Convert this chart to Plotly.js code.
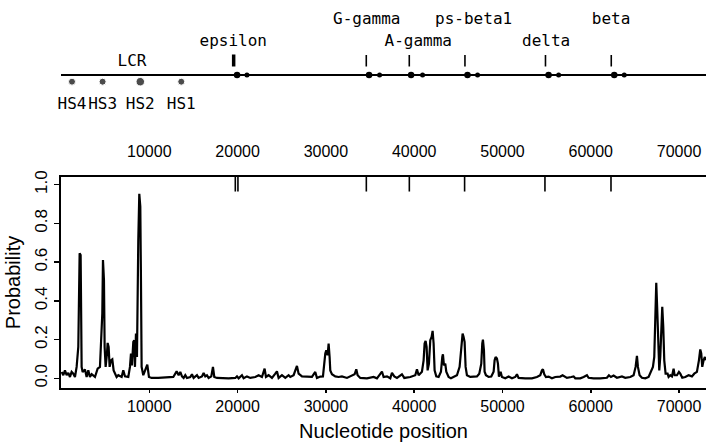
<!DOCTYPE html>
<html><head><meta charset="utf-8">
<script src="https://cdn.plot.ly/plotly-3.0.1.min.js"></script>
<style>html,body{margin:0;padding:0;background:#fff;}#chart{width:706px;height:444px;}</style>
</head><body><div id="chart"></div>
<script>
// ---- data ----
const position = [
  72, 260, 449, 638, 827, 1015, 1204, 1393, 1582, 1770,
  1959, 2035, 2110, 2223, 2299, 2337, 2450, 2714, 2903, 3092,
  3280, 3469, 3847, 4149, 4413, 4526, 4677, 4753, 4866, 4942,
  5055, 5206, 5281, 5394, 5508, 5659, 5810, 5961, 6112, 6300,
  6489, 6867, 7055, 7244, 7622, 7810, 7924, 8037, 8188, 8301,
  8377, 8490, 8603, 8679, 8754, 8867, 8981, 9056, 9132, 9320,
  9509, 9773, 9962, 10264, 11019, 11774, 12152, 12718, 13096,
  13322, 13510, 13699, 13888, 14077, 14265, 14643, 14832, 15020, 15398,
  15587, 15964, 16153, 16342, 16530, 16719, 17021, 17210, 17361, 17663,
  18229, 18984, 19739, 19928, 20117, 20494, 20683, 21061, 21438, 22004,
  22382, 22759, 23061, 23212, 23514, 23892, 24269, 24458, 24647, 25024,
  25402, 25779, 25968, 26345, 26723, 26912, 27289, 27667, 28044, 28422,
  28799, 28988, 29366,
  29668, 29932, 30045, 30196, 30309, 30422, 30498, 30687, 31064, 31442,
  31819, 32385, 32952, 33254, 33442, 33593, 33895, 34650, 35405, 35783,
  36349, 36538, 36915, 37293, 37482, 37746, 38048, 38614, 38878, 39558,
  40124, 40313, 40502, 40879, 41068, 41181, 41294, 41408, 41521, 41672,
  41823, 41974, 42087, 42200, 42313, 42502, 42766, 43031, 43182, 43257,
  43370, 43521, 43635, 43899, 44163, 44465, 44843, 45145, 45296, 45409,
  45484, 45597, 45710, 45824, 45975, 46352,
  46730, 47108, 47372, 47599, 47712, 47787, 47901, 47976, 48127, 48429,
  48731, 48996, 49109, 49222, 49373, 49486, 49599, 49788, 49939, 50317,
  50694, 51072, 51449, 51638, 51826, 52204, 52581, 52959, 53336, 53903,
  54280, 54469, 54582, 54733, 54922, 55224, 55601, 55979, 56545, 56810,
  57036, 57300, 57791, 58055, 58244, 58810,
  59187, 59565, 59753, 60320, 61075, 61830, 62057, 62283, 62585, 62962,
  63529, 63906, 64473, 64850, 65077, 65228, 65341, 65530, 65794, 66172,
  66549, 66813, 67040, 67191, 67304, 67417, 67530, 67643, 67757, 67870,
  67983, 68096, 68209, 68323, 68474, 68700, 68813, 69002, 69191, 69380,
  69493, 69757, 69983, 70134, 70361, 70700, 71078, 71455, 71719, 72021,
  72248, 72399, 72512, 72625, 72776, 72927, 73002
];
const probability = [
  .033, .016, .041, .016, .028, .007, .033, .024, .007, .059,
  .162, .508, .646, .637, .335, .059, .033, .045, .007, .041,
  .007, .021, .007, .050, .059, .162, .335, .611, .508, .162,
  .059, .128, .183, .162, .059, .093, .098, .041, .024, .007,
  .016, .007, .041, .010, .007, .059, .128, .067, .188, .197,
  .059, .231, .110, .508, .715, .953, .888, .508, .059, .016,
  .041, .071, .007, .002, .002, .004, .002, .007, .036,
  .016, .033, .010, .002, .016, .002, .007, .021, .002, .016,
  .002, .010, .028, .010, .016, .002, .010, .059, .007, .002,
  0, 0, .002, .010, 0, .016, 0, .010, .002, .007,
  .016, .007, .050, .007, .016, .002, .024, .036, .002, .016,
  .002, .016, .007, .016, .064, .024, .010, .009, .010, .007,
  .033, .002, .009,
  .010, .128, .145, .119, .180, .110, .041, .021, .010, .007,
  .010, .002, .016, .021, .047, .016, .002, 0, .007, 0,
  .035, .007, .010, 0, .028, .010, .002, .021, .002, .007,
  .016, .047, .016, .034, .093, .180, .193, .162, .041, .076,
  .197, .214, .245, .180, .041, .010, .007, .034, .110, .124,
  .067, .076, .034, .007, 0, .007, .016, .059, .145, .214,
  .231, .214, .188, .059, .016, .007,
  .007, .010, .024, .076, .180, .200, .145, .034, .016, .007,
  .009, .034, .093, .110, .102, .076, .009, .034, .007, 0,
  .009, 0, .007, .021, .002, 0, 0, 0, 0, .007,
  .016, .041, .047, .021, .007, .009, 0, .007, .009, .016,
  .009, .002, .007, .010, 0, 0,
  .007, .016, .003, 0, 0, .003, .016, .007, .014, .003,
  .010, .003, .007, .016, .059, .116, .059, .016, .003, 0,
  .007, .033, .059, .111, .266, .494, .352, .111, .041, .111,
  .300, .370, .266, .093, .024, .024, .007, .016, .010, .050,
  .016, .016, .033, .024, .003, .007, .016, .010, .024, .033,
  .093, .149, .128, .059, .093, .111, .093
];
const xTickVals = [10000, 20000, 30000, 40000, 50000, 60000, 70000];
const xTickText = ['10000', '20000', '30000', '40000', '50000', '60000', '70000'];
const yTickVals = [0, 0.2, 0.4, 0.6, 0.8, 1.0];
const yTickText = ['0.0', '0.2', '0.4', '0.6', '0.8', '1.0'];

const geneNames = ['epsilon', 'G-gamma', 'A-gamma', 'ps-beta1', 'delta', 'beta'];
const genePos = [19555, 34575, 39445, 45750, 54870, 62320];
const geneLabelX = [19510, 34630, 40465, 46730, 54940, 62300];
const exonMainX = [19940, 34890, 39650, 46040, 55220, 62660];
const exonSmallX = [21060, 36080, 40950, 47180, 56360, 63790];
const hsNames = ['HS4', 'HS3', 'HS2', 'HS1'];
const hsPos = [1245, 4710, 8980, 13620];
const lcrName = ['LCR'];
const lcrPos = [8040];
const topMarks = [19740, 20040, 34580, 39450, 45710, 54810, 62290];

// ---- layout constants ----
const xRange = [0, 73050];
const MAP = {line: 75, barTop: 54.5, barBottom: 66.5, rowUpper: 20, rowLower: 42, lcr: 62, hsDot: 81.7, hsLabel: 105};
const geneRow = [MAP.rowLower, MAP.rowUpper, MAP.rowLower, MAP.rowUpper, MAP.rowLower, MAP.rowUpper];
const axisFont = {family: 'Liberation Sans, Arial, sans-serif', size: 16, color: '#000'};
const mapFont = {family: 'DejaVu Sans Mono, monospace', size: 16, color: '#000'};

function segs(xs, y0, y1) {
  const x = [], y = [];
  xs.forEach(v => { x.push(v, v, null); y.push(y0, y1, null); });
  return {x, y};
}
const topSeg = segs(topMarks, 1.04, 0.965);
const epsSeg = segs(genePos.slice(0, 1), MAP.barTop, MAP.barBottom);
const barSeg = segs(genePos.slice(1), MAP.barTop + 0.5, MAP.barBottom);

const traces = [
  {x: position, y: probability, mode: 'lines', line: {color: '#000', width: 2.2}, xaxis: 'x', yaxis: 'y', hoverinfo: 'skip'},
  {x: topSeg.x, y: topSeg.y, mode: 'lines', line: {color: '#000', width: 1.6}, xaxis: 'x', yaxis: 'y', hoverinfo: 'skip'},
  {x: xRange, y: [MAP.line, MAP.line], mode: 'lines', line: {color: '#000', width: 2}, xaxis: 'x', yaxis: 'y2', cliponaxis: false},
  {x: epsSeg.x, y: epsSeg.y, mode: 'lines', line: {color: '#000', width: 3.5}, xaxis: 'x', yaxis: 'y2'},
  {x: barSeg.x, y: barSeg.y, mode: 'lines', line: {color: '#000', width: 1.6}, xaxis: 'x', yaxis: 'y2'},
  {x: exonMainX, y: exonMainX.map(() => MAP.line), mode: 'markers', marker: {color: '#000', size: 6.5, symbol: 'circle'}, xaxis: 'x', yaxis: 'y2'},
  {x: exonSmallX, y: exonSmallX.map(() => MAP.line), mode: 'markers', marker: {color: '#000', size: 5}, xaxis: 'x', yaxis: 'y2'},
  {x: hsPos, y: hsPos.map(() => MAP.hsDot), mode: 'markers', marker: {color: '#000', size: [7, 7, 8.5, 7]}, xaxis: 'x', yaxis: 'y2'},
  {x: geneLabelX, y: geneRow, text: geneNames, mode: 'text', textposition: 'middle center', textfont: mapFont, xaxis: 'x', yaxis: 'y2', cliponaxis: false},
  {x: hsPos, y: hsPos.map(() => MAP.hsLabel), text: hsNames, mode: 'text', textposition: 'middle center', textfont: mapFont, xaxis: 'x', yaxis: 'y2', cliponaxis: false},
  {x: lcrPos, y: [MAP.lcr], text: lcrName, mode: 'text', textposition: 'middle center', textfont: mapFont, xaxis: 'x', yaxis: 'y2', cliponaxis: false},
  {x: [xRange[0]], y: [0.5], mode: 'markers', marker: {opacity: 0}, xaxis: 'x2', yaxis: 'y', hoverinfo: 'skip'}
];

const layout = {
  width: 706, height: 444,
  margin: {l: 61, r: 0, t: 0, b: 56},
  paper_bgcolor: '#fff', plot_bgcolor: '#fff',
  showlegend: false,
  font: axisFont,
  xaxis: {
    domain: [0, 1], range: xRange, anchor: 'y',
    showline: true, linecolor: '#000', linewidth: 2,
    ticks: 'outside', ticklen: 3, tickwidth: 1.5, tickcolor: '#000',
    tickvals: xTickVals, ticktext: xTickText, tickfont: axisFont,
    showgrid: false, zeroline: false,
    title: {text: 'Nucleotide position', font: {family: axisFont.family, size: 20, color: '#000'}, standoff: 10}
  },
  xaxis2: {
    overlaying: 'x', range: xRange, anchor: 'y', side: 'top',
    showline: true, linecolor: '#000', linewidth: 1.6,
    ticks: '', tickvals: xTickVals, ticktext: xTickText, tickfont: axisFont,
    ticklabelstandoff: 12,
    showgrid: false, zeroline: false
  },
  yaxis: {
    domain: [0, 0.5438], range: [-0.05, 1.04], anchor: 'x',
    showline: true, linecolor: '#000', linewidth: 2,
    ticks: 'outside', ticklen: 5, tickwidth: 1.5, tickcolor: '#000',
    tickvals: yTickVals, ticktext: yTickText, tickangle: -90,
    tickfont: {family: axisFont.family, size: 17, color: '#000'},
    showgrid: false, zeroline: false,
    title: {text: 'Probability', font: {family: axisFont.family, size: 20, color: '#000'}, standoff: 6}
  },
  yaxis2: {
    domain: [0.665, 1], range: [130, 0], anchor: 'x', visible: false,
    showgrid: false, zeroline: false
  }
};

Plotly.newPlot('chart', traces, layout, {staticPlot: true, displayModeBar: false});
</script>
</body></html>
